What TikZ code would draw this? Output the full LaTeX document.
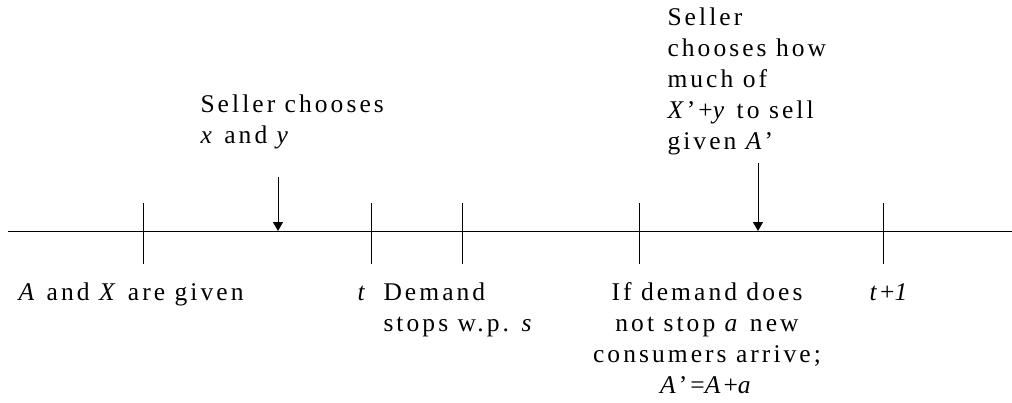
\documentclass[tikz,border=0pt]{standalone}
\usepackage{fontspec}
\setmainfont{Liberation Serif}[LetterSpace=12]
\usetikzlibrary{arrows.meta}
\begin{document}
\begin{tikzpicture}[x=1pt,y=-1pt,line width=1pt,
  lbl/.style={anchor=base west,inner sep=0pt,font=\fontsize{25.5}{31}\selectfont},
  evarrow/.style={-{Triangle[length=9pt,width=10pt]}}]
\useasboundingbox (0,0) rectangle (1012,402);
% time axis
\coordinate (L) at (8,231); \coordinate (R) at (1012,231);
\draw (L) -- (R);
% ticks
\foreach \x/\n in {143/a,371/b,462/c,639/d,883/e}{
  \coordinate (tk\n top) at (\x,203);
  \coordinate (tk\n bot) at (\x,264);
  \draw (tk\n top) -- (tk\n bot);
}
% event arrows
\coordinate (a1s) at (278,177); \coordinate (a1e) at (278,231);
\draw[evarrow] (a1s) -- (a1e);
\coordinate (a2s) at (758,163); \coordinate (a2e) at (758,231);
\draw[evarrow] (a2s) -- (a2e);
% labels
\node[lbl] (given) at (18,300) {\textit{A} and \textit{X} are given};
\node[lbl] (t) at (357,300) {\textit{t}};
\node[lbl] (demand) at (383,300) {\begin{tabular}[t]{@{}l@{}}Demand\\stops w.p. \textit{s}\end{tabular}};
\node[lbl,anchor=base] (arrive) at (707,300) {\begin{tabular}[t]{@{}c@{}}If demand does\\not stop \textit{a} new\\consumers arrive;\\\textit{A}’=\textit{A}+\textit{a}\end{tabular}};
\node[lbl] (tplus) at (869,300) {\textit{t}+\textit{1}};
\node[lbl] (sel1) at (200,112) {\begin{tabular}[t]{@{}l@{}}Seller chooses\\\textit{x} and \textit{y}\end{tabular}};
\node[lbl] (sel2) at (667,25) {\begin{tabular}[t]{@{}l@{}}Seller\\chooses how\\much of\\\textit{X}’+\textit{y} to sell\\given \textit{A}’\end{tabular}};
\end{tikzpicture}
\end{document}
